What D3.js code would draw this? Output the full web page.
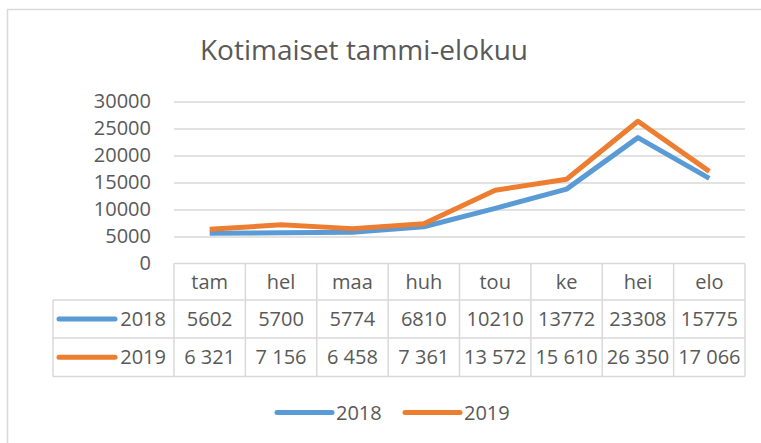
<!DOCTYPE html>
<html>
<head>
<meta charset="utf-8">
<script src="https://cdn.jsdelivr.net/npm/d3@7"></script>
<style>
body{margin:0;background:#fff;}
text{font-family:"Open Sans","Noto Sans",sans-serif;fill:#595959;}
</style>
</head>
<body>
<div id="chart"></div>
<script>
var months=["tam","hel","maa","huh","tou","ke","hei","elo"];
var years=["2018","2019"];
var values2018=[5602,5700,5774,6810,10210,13772,23308,15775];
var values2019=[6321,7156,6458,7361,13572,15610,26350,17066];
var yTicks=[0,5000,10000,15000,20000,25000,30000];
var colors=["#5B9BD5","#ED7D31"];

var width=761,height=443;
var plotLeft=174,plotRight=745,plotTop=101.5,plotBottom=263.5;
var rowH=[36.5,38,38.5];
var tableLeft=53;

var spaced=d3.formatLocale({decimal:",",thousands:"\u00a0",grouping:[3]}).format(",d");
var formats=[function(d){return String(d);},spaced];
var series=[values2018,values2019];

var svg=d3.select("#chart")
	.append("svg")
	.attr("width",width)
	.attr("height",height);

// chart border
svg.append("rect")
	.attr("x",7.5).attr("y",9.5)
	.attr("width",820).attr("height",500)
	.attr("fill","none")
	.attr("stroke","#D9D9D9")
	.attr("stroke-width",1.5);

svg.append("text")
	.attr("x",364).attr("y",60)
	.attr("text-anchor","middle")
	.attr("font-size","28px")
	.text("Kotimaiset tammi-elokuu");

var x=d3.scaleBand().domain(months).range([plotLeft,plotRight]).paddingInner(0).paddingOuter(0);
var y=d3.scaleLinear().domain([0,30000]).range([plotBottom,plotTop]);

// gridlines
svg.append("g")
	.attr("transform","translate("+plotLeft+",0)")
	.call(d3.axisLeft(y).tickValues(yTicks.slice(1)).tickSize(-(plotRight-plotLeft)).tickFormat(""))
	.call(function(g){
		g.select(".domain").remove();
		g.selectAll("line").attr("stroke","#D9D9D9").attr("stroke-width",1.3);
	});

// y labels
svg.append("g")
	.attr("transform","translate(151,0)")
	.call(d3.axisLeft(y).tickValues(yTicks).tickSize(0).tickPadding(0).tickFormat(function(d){return String(d);}))
	.call(function(g){
		g.select(".domain").remove();
		g.selectAll("text").attr("font-size","20px").attr("fill","#595959")
			.attr("font-family","'Open Sans',sans-serif");
	});

// data table
var r1=plotBottom+rowH[0],r2=r1+rowH[1],r3=r2+rowH[2];
var grid=svg.append("g").attr("stroke","#D9D9D9").attr("stroke-width",1.5);
grid.append("line").attr("x1",plotLeft).attr("x2",plotRight).attr("y1",plotBottom).attr("y2",plotBottom);
[r1,r2,r3].forEach(function(yy){
	grid.append("line").attr("x1",tableLeft).attr("x2",plotRight).attr("y1",yy).attr("y2",yy);
});
months.forEach(function(m){
	grid.append("line").attr("x1",x(m)).attr("x2",x(m)).attr("y1",plotBottom).attr("y2",r3);
});
grid.append("line").attr("x1",plotRight).attr("x2",plotRight).attr("y1",plotBottom).attr("y2",r3);
grid.append("line").attr("x1",tableLeft).attr("x2",tableLeft).attr("y1",r1).attr("y2",r3);

svg.selectAll(".month")
	.data(months)
	.enter()
	.append("text")
	.attr("class","month")
	.attr("x",function(d){return x(d)+x.bandwidth()/2;})
	.attr("y",(plotBottom+r1)/2+7)
	.attr("text-anchor","middle")
	.attr("font-size","20px")
	.text(function(d){return d;});

var rowMid=[(r1+r2)/2,(r2+r3)/2];
series.forEach(function(vals,si){
	svg.selectAll(".cell"+si)
		.data(vals)
		.enter()
		.append("text")
		.attr("x",function(d,i){return x(months[i])+x.bandwidth()/2;})
		.attr("y",rowMid[si]+7)
		.attr("text-anchor","middle")
		.attr("font-size","20px")
		.text(formats[si]);
	svg.append("line")
		.attr("x1",59).attr("x2",115)
		.attr("y1",rowMid[si]).attr("y2",rowMid[si])
		.attr("stroke",colors[si]).attr("stroke-width",5).attr("stroke-linecap","round");
	svg.append("text")
		.attr("x",166).attr("y",rowMid[si]+7)
		.attr("text-anchor","end")
		.attr("font-size","20px")
		.text(years[si]);
});

// lines
var line=d3.line()
	.x(function(d,i){return x(months[i])+x.bandwidth()/2;})
	.y(function(d){return y(d);});

series.forEach(function(vals,si){
	svg.append("path")
		.datum(vals)
		.attr("fill","none")
		.attr("stroke",colors[si])
		.attr("stroke-width",5)
		.attr("stroke-linejoin","round")
		.attr("d",line);
});

// legend
var legendX=[277,405];
years.forEach(function(yr,i){
	svg.append("line")
		.attr("x1",legendX[i]).attr("x2",legendX[i]+55)
		.attr("y1",412.5).attr("y2",412.5)
		.attr("stroke",colors[i]).attr("stroke-width",5).attr("stroke-linecap","round");
	svg.append("text")
		.attr("x",legendX[i]+59).attr("y",419.5)
		.attr("font-size","20px")
		.text(yr);
});
</script>
</body>
</html>
